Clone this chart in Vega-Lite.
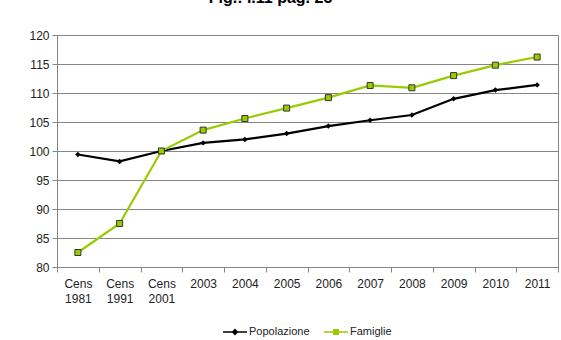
{
  "$schema": "https://vega.github.io/schema/vega-lite/v6.json",
  "width": 501,
  "height": 232,
  "autosize": {"type": "none"},
  "padding": {"left": 57, "top": 35, "right": 3, "bottom": 73},
  "title": {"text": "Fig.: I.11 pag. 25", "font": "Liberation Sans", "fontSize": 16, "fontWeight": "bold", "color": "#000000", "anchor": "middle", "baseline": "alphabetic", "offset": 10, "dx": -37},
  "config": {
    "view": {"stroke": "#868686", "strokeWidth": 1},
    "font": "Liberation Sans",
    "axis": {"labelFont": "Liberation Sans", "labelFontSize": 12, "labelColor": "#222222", "domainColor": "#868686", "tickColor": "#868686", "gridColor": "#868686", "gridOpacity": 1, "title": null},
    "legend": {"labelFont": "Liberation Sans", "labelFontSize": 11, "labelColor": "#222222"}
  },
  "data": {
    "values": [
      {"x": "Cens 1981", "serie": "Popolazione", "v": 99.4},
      {"x": "Cens 1991", "serie": "Popolazione", "v": 98.2},
      {"x": "Cens 2001", "serie": "Popolazione", "v": 100},
      {"x": "2003", "serie": "Popolazione", "v": 101.4},
      {"x": "2004", "serie": "Popolazione", "v": 102.0},
      {"x": "2005", "serie": "Popolazione", "v": 103.0},
      {"x": "2006", "serie": "Popolazione", "v": 104.3},
      {"x": "2007", "serie": "Popolazione", "v": 105.3},
      {"x": "2008", "serie": "Popolazione", "v": 106.2},
      {"x": "2009", "serie": "Popolazione", "v": 109.0},
      {"x": "2010", "serie": "Popolazione", "v": 110.5},
      {"x": "2011", "serie": "Popolazione", "v": 111.4},
      {"x": "Cens 1981", "serie": "Famiglie", "v": 82.5},
      {"x": "Cens 1991", "serie": "Famiglie", "v": 87.5},
      {"x": "Cens 2001", "serie": "Famiglie", "v": 100},
      {"x": "2003", "serie": "Famiglie", "v": 103.6},
      {"x": "2004", "serie": "Famiglie", "v": 105.6},
      {"x": "2005", "serie": "Famiglie", "v": 107.4},
      {"x": "2006", "serie": "Famiglie", "v": 109.2},
      {"x": "2007", "serie": "Famiglie", "v": 111.3},
      {"x": "2008", "serie": "Famiglie", "v": 110.9},
      {"x": "2009", "serie": "Famiglie", "v": 113.0},
      {"x": "2010", "serie": "Famiglie", "v": 114.8},
      {"x": "2011", "serie": "Famiglie", "v": 116.2}
    ]
  },
  "encoding": {
    "x": {"field": "x", "type": "ordinal", "sort": null, "scale": {"type": "band", "paddingInner": 0, "paddingOuter": 0},
      "axis": {"labelAngle": 0, "tickBand": "extent", "tickSize": 5, "labelPadding": 6, "labelExpr": "split(datum.label, ' ')", "labelLineHeight": 15, "grid": false}},
    "y": {"field": "v", "type": "quantitative", "scale": {"domain": [80, 120], "nice": false, "zero": false},
      "axis": {"values": [80, 85, 90, 95, 100, 105, 110, 115, 120], "tickSize": 5, "labelPadding": 3, "grid": true}}
  },
  "layer": [
    {
      "mark": {"type": "line", "strokeWidth": 2.2},
      "encoding": {
        "color": {"field": "serie", "type": "nominal", "scale": {"domain": ["Popolazione", "Famiglie"], "range": ["#000000", "#99CC00"]},
          "legend": {"orient": "none", "legendX": 166, "legendY": 285, "direction": "horizontal", "title": null, "symbolSize": 576, "symbolStrokeWidth": 0, "symbolOpacity": 1, "labelOffset": 2, "columnPadding": 14}}
      }
    },
    {
      "transform": [{"filter": "datum.serie == 'Popolazione'"}],
      "mark": {"type": "point", "shape": "diamond", "filled": true, "color": "#000000", "size": 30, "opacity": 1}
    },
    {
      "transform": [{"filter": "datum.serie == 'Famiglie'"}],
      "mark": {"type": "point", "shape": "square", "filled": true, "fill": "#99CC00", "stroke": "#333333", "strokeWidth": 1, "size": 36, "opacity": 1}
    },
    {
      "mark": {"type": "point", "filled": true, "opacity": 0},
      "encoding": {
        "shape": {"field": "serie", "type": "nominal", "scale": {"domain": ["Popolazione", "Famiglie"], "range": ["M-1,-0.07H1V0.07H-1ZM0,-0.3L0.28,0L0,0.3L-0.28,0Z", "M-1,-0.07H1V0.07H-1ZM-0.25,-0.25H0.25V0.25H-0.25Z"]},
          "legend": {"orient": "none", "legendX": 166, "legendY": 285, "direction": "horizontal", "title": null, "symbolSize": 576, "symbolStrokeWidth": 0, "symbolOpacity": 1, "labelOffset": 2, "columnPadding": 14}},
        "color": {"field": "serie", "type": "nominal"}
      }
    }
  ]
}
